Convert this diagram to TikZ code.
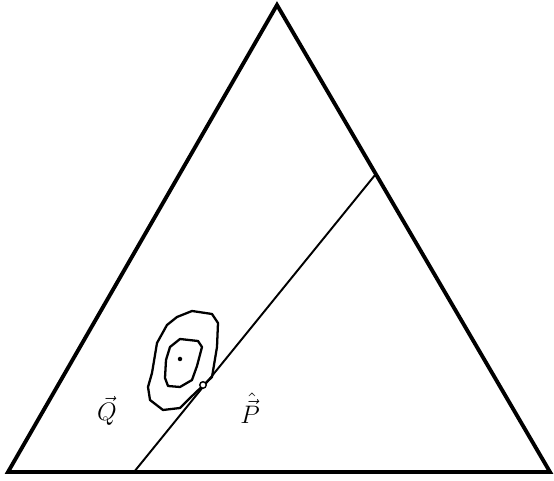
\documentclass[tikz,border=0pt]{standalone}
\usepackage{amsmath, amssymb}
\usetikzlibrary{calc}

\begin{document}
\begin{tikzpicture}[
        simplex/.style={line width=2.2pt, line join=miter},
        split/.style={line width=1.1pt},
        contour/.style={line width=1.3pt, line join=round},
        lbl/.style={font=\Large, inner sep=1pt},
      ]

      \useasboundingbox (0, 0) rectangle (11.08, 9.62);

      % Corners of the simplex
      \coordinate (top) at (5.54, 9.52);
      \coordinate (left) at (0.16, 0.18);
      \coordinate (right) at (11.0, 0.18);

      % Simplex
      \draw[simplex] (left) -- (top) -- (right) -- cycle;

      % Dividing line
      \coordinate (base) at (2.68, 0.18);
      \coordinate (edge) at ($(top)!0.362!(right)$);
      \draw[split] (base) -- (edge);

      % Outer contour
      \draw[contour] (3.84, 3.40) -- (4.24, 3.34) -- (4.36, 3.16)
        -- (4.34, 2.68) -- (4.24, 2.08) -- (3.80, 1.66) -- (3.60, 1.46)
        -- (3.26, 1.42) -- (3.00, 1.62) -- (2.96, 1.88) -- (3.04, 2.16)
        -- (3.14, 2.76) -- (3.34, 3.12) -- (3.54, 3.28) -- cycle;

      % Inner contour
      \draw[contour] (3.60, 2.84) -- (3.96, 2.80) -- (4.04, 2.68)
        -- (3.94, 2.30) -- (3.84, 2.02) -- (3.60, 1.88) -- (3.36, 1.90)
        -- (3.30, 2.06) -- (3.32, 2.42) -- (3.40, 2.68) -- cycle;

      % Centre and projected point
      \fill (3.60, 2.44) circle (0.045);
      \node[circle, draw, line width=0.8pt, fill=white, inner sep=0pt,
        minimum size=0.13cm] (proj) at (4.06, 1.92) {};

      % Labels
      \node[lbl] (q) at (2.14, 1.40) {$\vec{Q}$};
      \node[lbl] (p) at (5.00, 1.46) {$\hat{\vec{P}}$};

\end{tikzpicture}
\end{document}
